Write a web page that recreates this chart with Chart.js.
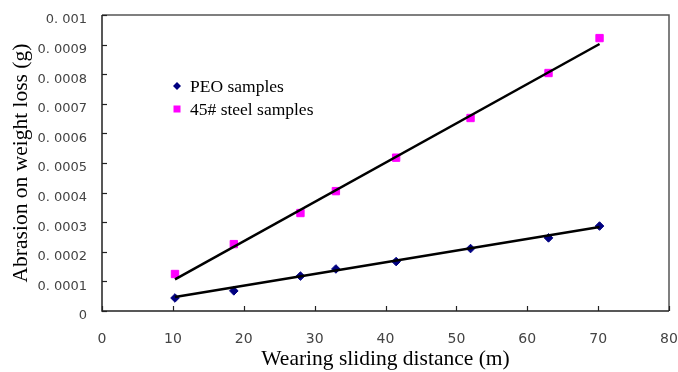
<!DOCTYPE html>
<html><head><meta charset="utf-8">
<script src="https://cdn.jsdelivr.net/npm/chart.js@4"></script>
<style>html,body{margin:0;padding:0;background:#fff}#wrap{width:678px;height:372px}</style>
</head><body><div id="wrap"><canvas id="c" width="678" height="372"></canvas></div>
<script>
// Data
const distance = [10.3, 18.6, 28, 33, 41.5, 52, 63, 70.2];
const peo      = [0.000044, 0.000068, 0.000118, 0.000142, 0.000167, 0.000211, 0.000247, 0.000287];
const steel    = [0.000125, 0.000226, 0.000331, 0.000405, 0.000518, 0.000652, 0.000804, 0.000922];
// Trend line end points
const fitX     = [10.3, 70.2];
const peoFit   = [0.000047, 0.000284];
const steelFit = [0.000107, 0.000902];
const seriesLabels = ['PEO samples', '45# steel samples'];
const xRange = [0, 80], xStep = 10;
const yRange = [0, 0.001], yStep = 0.0001;

const pts = (xs, ys) => xs.map((x, i) => ({x, y: ys[i]}));

const frameTicks = {
  id: 'frameTicks',
  beforeDatasetsDraw(chart) {
    const {ctx, chartArea: a, scales} = chart;
    ctx.save();
    ctx.lineWidth = 1.5;
    ctx.strokeStyle = '#555';
    ctx.beginPath();
    ctx.moveTo(a.left, a.top); ctx.lineTo(a.right, a.top); ctx.lineTo(a.right, a.bottom);
    ctx.stroke();
    ctx.strokeStyle = '#222';
    ctx.beginPath();
    ctx.moveTo(a.left, a.top); ctx.lineTo(a.left, a.bottom); ctx.lineTo(a.right, a.bottom);
    ctx.stroke();
    ctx.lineWidth = 1.2;
    scales.y.ticks.forEach(t => {
      const y = Math.round(scales.y.getPixelForValue(t.value)) + 0.5;
      ctx.beginPath(); ctx.moveTo(a.left, y); ctx.lineTo(a.left + 5, y); ctx.stroke();
    });
    scales.x.ticks.forEach(t => {
      const x = Math.round(scales.x.getPixelForValue(t.value)) + 0.5;
      ctx.beginPath(); ctx.moveTo(x, a.bottom); ctx.lineTo(x, a.bottom - 5); ctx.stroke();
    });
    ctx.restore();
  }
};

const innerLegend = {
  id: 'innerLegend',
  afterDraw(chart) {
    const {ctx, chartArea: a} = chart;
    const items = chart.data.datasets.filter(d => d.legend);
    ctx.save();
    ctx.font = '17.5px "Liberation Serif", "Times New Roman", serif';
    ctx.textBaseline = 'middle';
    items.forEach((d, i) => {
      const mx = a.left + 75, my = a.top + 71 + i * 23;
      ctx.fillStyle = d.backgroundColor;
      ctx.beginPath();
      if (d.pointStyle === 'rectRot') {
        const r = 4;
        ctx.moveTo(mx, my - r); ctx.lineTo(mx + r, my); ctx.lineTo(mx, my + r); ctx.lineTo(mx - r, my);
        ctx.closePath(); ctx.fill();
      } else {
        ctx.fillRect(mx - 3.5, my - 3.5, 7, 7);
      }
      ctx.fillStyle = '#000';
      ctx.fillText(d.label, mx + 13, my + 1);
    });
    ctx.restore();
  }
};

const xTickFont = {family: '"DejaVu Sans", Verdana, sans-serif', size: 14};
const yTickFont = {family: '"DejaVu Sans", Verdana, sans-serif', size: 13};
const titleFont = {family: '"Liberation Serif", "Times New Roman", serif', size: 21.5, lineHeight: 1.2};

new Chart(document.getElementById('c'), {
  type: 'scatter',
  data: {
    datasets: [
      {label: 'fit1', data: pts(fitX, steelFit), showLine: true, borderColor: '#000', borderWidth: 2.5, pointRadius: 0, legend: false},
      {label: 'fit2', data: pts(fitX, peoFit), showLine: true, borderColor: '#000', borderWidth: 2.5, pointRadius: 0, legend: false},
      {label: seriesLabels[0], data: pts(distance, peo), pointStyle: 'rectRot', pointRadius: 4.3, backgroundColor: '#000080', borderColor: '#000080', borderWidth: 1, legend: true},
      {label: seriesLabels[1], data: pts(distance, steel), pointStyle: 'rect', pointRadius: 5.2, backgroundColor: '#ff00ff', borderColor: '#ff00ff', borderWidth: 1, legend: true}
    ]
  },
  options: {
    responsive: false,
    animation: false,
    devicePixelRatio: 1,
    layout: {padding: {top: 15, right: 9, left: 0, bottom: 0}},
    plugins: {legend: {display: false}, tooltip: {enabled: false}},
    scales: {
      x: {
        type: 'linear', min: xRange[0], max: xRange[1],
        grid: {display: false}, border: {display: false},
        ticks: {stepSize: xStep, font: xTickFont, color: '#444', padding: 12, maxRotation: 0},
        title: {display: true, text: 'Wearing sliding distance (m)', font: titleFont, color: '#000', padding: {top: 0, bottom: 0}},
        afterFit(s) { s.height = 61; s.paddingLeft = 0; s.paddingRight = 0; }
      },
      y: {
        type: 'linear', min: yRange[0], max: yRange[1],
        grid: {display: false}, border: {display: false},
        ticks: {stepSize: yStep, font: yTickFont, color: '#444', padding: 7, labelOffset: 5,
          callback: v => v === 0 ? '0' : v.toFixed(4).replace(/0+$/, '').replace('.', '. ')},
        title: {display: true, text: 'Abrasion on weight loss (g)', font: titleFont, color: '#000', padding: {top: 8, bottom: 0}},
        afterFit(s) { s.width = 102; s.paddingTop = 0; s.paddingBottom = 0; }
      }
    }
  },
  plugins: [frameTicks, innerLegend]
});
</script></body></html>
